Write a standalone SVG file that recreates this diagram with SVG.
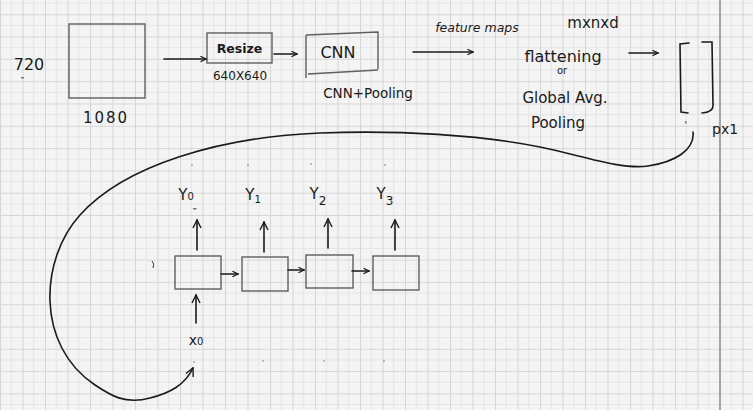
<svg xmlns="http://www.w3.org/2000/svg" width="753" height="410" viewBox="0 0 753 410">
<defs>
<pattern id="grid" x="0" y="14.3" width="22.5" height="22.3" patternUnits="userSpaceOnUse">
<rect width="22.5" height="22.3" fill="#f4f4f4"/>
<path d="M11.25 0V22.3M0 11.15H22.5" stroke="#e5e5e5" stroke-width="1"/>
<path d="M0.5 0V22.3M0 0.5H22.5" stroke="#d6d6d6" stroke-width="1"/>
</pattern>
<marker id="ah" viewBox="0 0 10 10" refX="9" refY="5" markerWidth="7" markerHeight="7" orient="auto" markerUnits="userSpaceOnUse">
<path d="M1 1L9 5L1 9" fill="none" stroke="#1a1a1a" stroke-width="1.6"/>
</marker>
<marker id="ahs" viewBox="0 0 10 10" refX="9" refY="5" markerWidth="10" markerHeight="10" orient="auto" markerUnits="userSpaceOnUse">
<path d="M1 1L9 5L1 9" fill="none" stroke="#1a1a1a" stroke-width="1.4"/>
</marker>
</defs>
<style>
text{font-family:"DejaVu Sans","Liberation Sans",sans-serif;fill:#1a1a1a}
.m{text-anchor:middle}
.box{fill:none;stroke:#5e5e5e;stroke-width:1.4}
.ln{fill:none;stroke:#1a1a1a;stroke-width:1.6;stroke-linecap:round}
.dot{fill:#777}
</style>
<rect width="753" height="410" fill="url(#grid)"/>
<line x1="720" y1="0" x2="720" y2="410" stroke="#a4a4a4" stroke-width="2"/>

<g id="image">
<rect class="box" x="69" y="24" width="76" height="74"/>
<text x="29" y="70" class="m" font-size="16">720</text>
<rect class="dot" x="21" y="77" width="3" height="1.5"/>
<text x="106" y="123" class="m" font-size="15" letter-spacing="2">1080</text>
</g>

<g id="resize">
<rect class="box" x="207" y="33" width="65" height="30"/>
<text x="239.5" y="53" class="m" font-size="12.5" font-weight="bold">Resize</text>
<text x="240" y="80" class="m" font-size="12">640X640</text>
</g>

<g id="cnn">
<path class="box" d="M306 35L378 32L378 69M308 74L378 70M306 35L306 78" stroke="#1a1a1a" stroke-width="1.8"/>
<text x="338" y="58" class="m" font-size="16">CNN</text>
<text x="368" y="98" class="m" font-size="13.5">CNN+Pooling</text>
</g>

<g id="flatten">
<text x="477" y="32" class="m" font-size="12.5" font-style="italic">feature maps</text>
<text x="593" y="28" class="m" font-size="15">mxnxd</text>
<text x="563" y="62" class="m" font-size="16">flattening</text>
<text x="562" y="74" class="m" font-size="10">or</text>
<text x="565" y="103" class="m" font-size="15">Global Avg.</text>
<text x="558" y="128" class="m" font-size="15">Pooling</text>
</g>

<g id="vector">
<path class="ln" d="M689 43L680 44L681 112L688 113"/>
<path class="ln" d="M702 42L712 42L713 106Q713 112 702 113"/>
<text x="712" y="134" font-size="14">px1</text>
<rect class="dot" x="685" y="121" width="1.5" height="2.5"/>
</g>

<g id="rnn0">
<rect class="box" x="175" y="256" width="46" height="33"/>
<text x="186" y="200" class="m" font-size="15">Y<tspan font-size="10" dy="0">0</tspan></text>
<rect class="dot" x="193" y="208" width="3.5" height="1.5"/>
<text x="196" y="345" class="m" font-size="14">x<tspan font-size="10">0</tspan></text>
</g>
<g id="rnn1">
<rect class="box" x="242" y="257" width="46" height="34"/>
<text x="253" y="200" class="m" font-size="15">Y<tspan font-size="10" dy="3">1</tspan></text>
</g>
<g id="rnn2">
<rect class="box" x="306" y="255" width="47" height="33"/>
<text x="318" y="199" class="m" font-size="15">Y<tspan font-size="12" dy="6">2</tspan></text>
</g>
<g id="rnn3">
<rect class="box" x="373" y="256" width="46" height="34"/>
<text x="385" y="199" class="m" font-size="15">Y<tspan font-size="12" dy="6">3</tspan></text>
</g>

<g id="marks">
<path d="M152 261Q155 264 153 268" fill="none" stroke="#333" stroke-width="1"/>
<circle class="dot" cx="192" cy="165" r="0.8"/>
<circle class="dot" cx="248" cy="165" r="0.8"/>
<circle class="dot" cx="311" cy="164" r="0.8"/>
<circle class="dot" cx="385" cy="165" r="0.8"/>
<circle class="dot" cx="263" cy="361" r="0.8"/>
<circle class="dot" cx="324" cy="361" r="0.8"/>
<circle class="dot" cx="384" cy="361" r="0.8"/>
<circle class="dot" cx="194" cy="362" r="0.8"/>
</g>

<g id="connectors">
<line class="ln" x1="164" y1="59" x2="206" y2="59" marker-end="url(#ah)"/>
<line class="ln" x1="274" y1="54" x2="297" y2="54" marker-end="url(#ah)"/>
<line class="ln" x1="413" y1="52" x2="473" y2="52" marker-end="url(#ah)"/>
<line class="ln" x1="629" y1="53" x2="658" y2="53" marker-end="url(#ah)"/>
<line class="ln" x1="221" y1="274" x2="238" y2="274" marker-end="url(#ah)" stroke-width="2"/>
<line class="ln" x1="288" y1="270" x2="304" y2="270" marker-end="url(#ah)"/>
<line class="ln" x1="352" y1="271" x2="369" y2="271" marker-end="url(#ah)"/>
<line class="ln" x1="197" y1="250" x2="197" y2="220" marker-end="url(#ahs)"/>
<line class="ln" x1="264" y1="252" x2="264" y2="222" marker-end="url(#ahs)"/>
<line class="ln" x1="328" y1="248" x2="328" y2="219" marker-end="url(#ahs)"/>
<line class="ln" x1="395" y1="250" x2="395" y2="220" marker-end="url(#ahs)"/>
<line class="ln" x1="196" y1="323" x2="196" y2="295" marker-end="url(#ahs)"/>
<path class="ln" stroke-width="2" d="M693 132C695 150 675 162 648 166C620 170 580 155 540 147C480 135 400 130 320 133C220 137 125 165 80 215C40 259 35 345 95 385C110 395 125 405 150 398C170 393 185 385 193 368" marker-end="url(#ahs)"/>
</g>
</svg>
